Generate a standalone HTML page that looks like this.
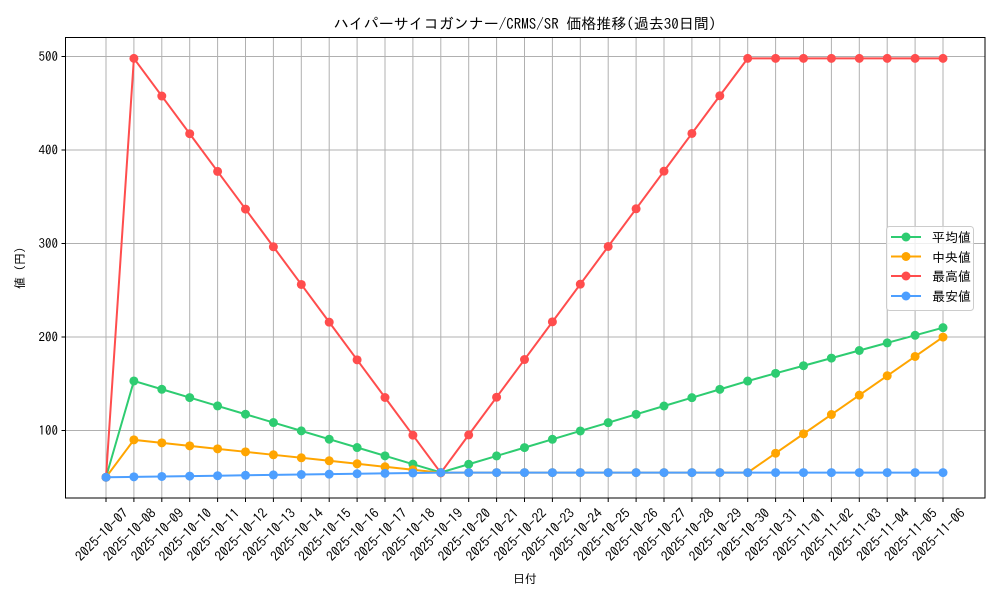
<!DOCTYPE html>
<html><head><meta charset="utf-8"><style>
body{margin:0;background:#fff}
svg text{font-family:"IPAGothic","Noto Sans CJK JP",sans-serif;fill:#000}
</style></head><body>
<svg id="s" width="1000" height="600" xmlns="http://www.w3.org/2000/svg">
<rect width="1000" height="600" fill="#fff"/>
<g id="grid"></g>
<g id="series"></g>
<rect x="65.5" y="37.5" width="919.5" height="460.5" fill="none" stroke="#000" stroke-width="1"/>
<g id="ticks"></g>
<text x="525" y="29" font-size="15" text-anchor="middle">ハイパーサイコガンナー/CRMS/SR 価格推移(過去30日間)</text>
<text x="525" y="583" font-size="12" text-anchor="middle">日付</text>
<text transform="translate(24,268) rotate(-90)" font-size="12" text-anchor="middle">値 (円)</text>
<g>
<rect x="886.5" y="226.5" width="87" height="84" rx="3" fill="#fff" fill-opacity="0.8" stroke="#ccc"/>
<line x1="891" y1="237" x2="921" y2="237" stroke="#2ecc71" stroke-width="2"/><circle cx="906" cy="237" r="4.5" fill="#2ecc71"/>
<text x="932" y="242" font-size="13">平均値</text>
<line x1="891" y1="256.5" x2="921" y2="256.5" stroke="#ffa500" stroke-width="2"/><circle cx="906" cy="256.5" r="4.5" fill="#ffa500"/>
<text x="932" y="262" font-size="13">中央値</text>
<line x1="891" y1="276" x2="921" y2="276" stroke="#ff4d4d" stroke-width="2"/><circle cx="906" cy="276" r="4.5" fill="#ff4d4d"/>
<text x="932" y="281" font-size="13">最高値</text>
<line x1="891" y1="296" x2="921" y2="296" stroke="#4d9fff" stroke-width="2"/><circle cx="906" cy="296" r="4.5" fill="#4d9fff"/>
<text x="932" y="301" font-size="13">最安値</text>
</g>
</svg>
<script>
var NS="http://www.w3.org/2000/svg";
function el(p,t,a,txt){var e=document.createElementNS(NS,t);for(var k in a)e.setAttribute(k,a[k]);if(txt)e.textContent=txt;document.getElementById(p).appendChild(e);return e;}
function X(i){return 106+i*27.9}
function Y(v){return 56.5+(500-v)*0.935}
var dates=[];var d=new Date(Date.UTC(2025,9,7));
for(var i=0;i<31;i++){var dd=new Date(d.getTime()+i*86400000);dates.push(dd.toISOString().slice(0,10));}
for(var i=0;i<31;i++){el("grid","line",{x1:X(i),x2:X(i),y1:37.5,y2:498,stroke:"#b0b0b0","stroke-width":1});
el("ticks","line",{x1:X(i),x2:X(i),y1:498,y2:502,stroke:"#000"});
el("ticks","text",{"font-size":13.5,"text-anchor":"middle",transform:"translate("+(X(i)-1)+",538) rotate(-45)"},dates[i]);}
[100,200,300,400,500].forEach(function(v){el("grid","line",{x1:65.5,x2:985,y1:Y(v),y2:Y(v),stroke:"#b0b0b0","stroke-width":1});
el("ticks","line",{x1:61.5,x2:65.5,y1:Y(v),y2:Y(v),stroke:"#000"});
el("ticks","text",{x:58,y:Y(v)+4.5,"font-size":13,"text-anchor":"end"},""+v);});
var mx=[],av=[],md=[],mn=[];
for(var i=0;i<31;i++){
 if(i==0){mx.push(50);av.push(50);md.push(50);mn.push(50);continue;}
 mx.push(i<=12?498-(i-1)*40.3:Math.min(498,55+(i-12)*40.3));
 av.push(i<=12?153-(i-1)*8.9:(i<=23?55+(i-12)*8.9:153+(i-23)*8.14));
 md.push(i<=12?90-(i-1)*3.2:(i<=23?55:55+(i-23)*20.7));
 mn.push(i<=12?50+i*5/12:55);
}
[[av,"#2ecc71"],[md,"#ffa500"],[mx,"#ff4d4d"],[mn,"#4d9fff"]].forEach(function(s){
 var p=s[0].map(function(v,i){return X(i)+","+Y(v)}).join(" ");
 el("series","polyline",{points:p,fill:"none",stroke:s[1],"stroke-width":2});
 s[0].forEach(function(v,i){el("series","circle",{cx:X(i),cy:Y(v),r:4.5,fill:s[1]});});
});
</script>
</body></html>
